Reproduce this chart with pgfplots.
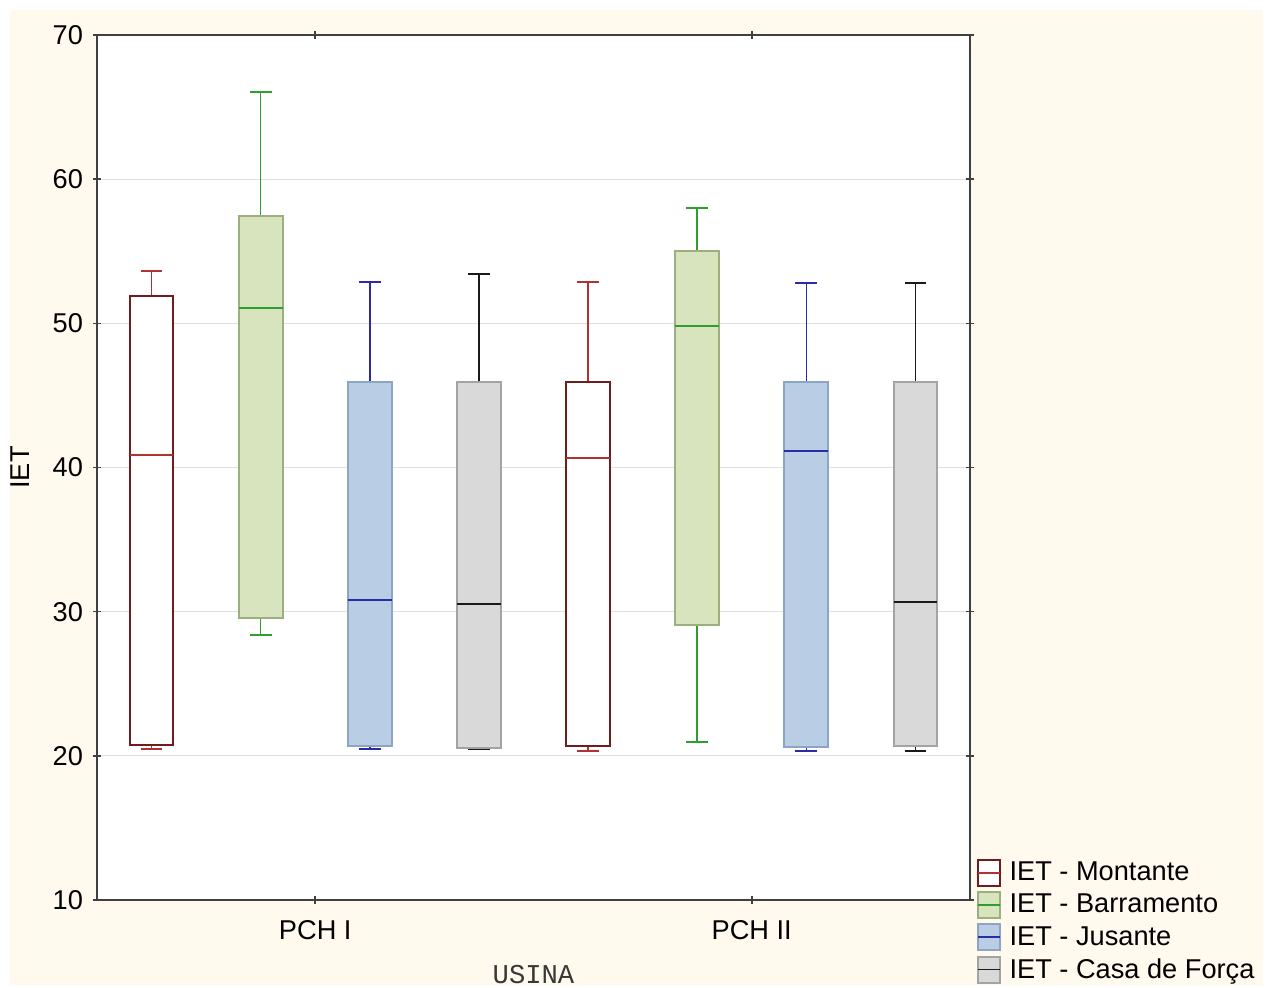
\documentclass[border=0pt]{standalone}
\usepackage{fontspec}
\setmainfont{Liberation Sans}
\setmonofont{Liberation Mono}
\usepackage{pgfplots}
\pgfplotsset{compat=1.18}
\usepgfplotslibrary{statistics}
\definecolor{cream}{HTML}{FFF9EE}
\definecolor{mEdge}{HTML}{6E1C1C}
\definecolor{mLine}{HTML}{B03333}
\definecolor{bFill}{HTML}{D7E4BD}
\definecolor{bEdge}{HTML}{9BB07E}
\definecolor{bLine}{HTML}{2E9E2E}
\definecolor{jFill}{HTML}{B9CDE5}
\definecolor{jEdge}{HTML}{8EA4C4}
\definecolor{jLine}{HTML}{2B2BA8}
\definecolor{cFill}{HTML}{D9D9D9}
\definecolor{cEdge}{HTML}{A3A3A3}
\definecolor{cLine}{HTML}{1A1A1A}
\newcommand{\fs}{\fontsize{13.6}{16}\selectfont}
\pgfplotsset{
  bx/.style n args={3}{solid, draw=#1, fill=#2, line width=1pt, mark=none,
    mark options={draw opacity=0, fill opacity=0},
    boxplot/box extend=0.4, boxplot/whisker extend=0.2,
    boxplot/every whisker/.style={solid, draw=#3, line width=0.8pt},
    boxplot/every median/.style={solid, draw=#3, line width=0.8pt}},
  lgimg/.style n args={3}{legend image code/.code={\draw[draw=#1,fill=#2,line width=0.8pt] (0pt,-6.5pt) rectangle (11pt,6.5pt); \draw[draw=#3,line width=0.7pt] (0pt,0pt)--(11pt,0pt); \path (13.5pt,0pt);}},
}
\begin{document}
\begin{tikzpicture}
% background: 1266x988 px at 0.5pt/px, axis box lower-left at (0,0)
\fill[white] (-48.5pt,-44pt) rectangle (584.5pt,450pt);
\fill[cream] (-43.5pt,-42.5pt) rectangle (583pt,445pt);
\fill[white] (0pt,0pt) rectangle (436.5pt,432.5pt);
\useasboundingbox (-48.5pt,-44pt) rectangle (584.5pt,450pt);
\begin{axis}[
  at={(0,0)}, anchor=south west,
  scale only axis, width=436.5pt, height=432.5pt,
  xmin=0.5, xmax=8.5, ymin=10, ymax=70,
  xtick={2.5,6.5}, xticklabels={PCH I,PCH II},
  ytick={10,20,...,70},
  ymajorgrids, grid style={draw=black!13, line width=0.6pt},
  axis line style={draw=black!75, line width=1pt},
  tick align=center, major tick length=4pt,
  tick style={draw=black!75, line width=0.8pt},
  /pgf/number format/assume math mode=true,
  ticklabel style={font=\fs},
  xticklabel style={yshift=-4.5pt},
  yticklabel style={xshift=-1.5pt},
  xlabel={USINA}, ylabel={IET},
  xlabel style={font=\ttfamily\fontsize{13.6}{15}\selectfont, text=black!78, at={(axis description cs:0.5,-0.0867)}, anchor=center},
  ylabel style={font=\fs, at={(axis description cs:-0.088,0.5)}, anchor=center},
  legend style={draw=none, fill=none, font=\fs, at={(axis description cs:1.008,-0.025)}, anchor=west,
    row sep=1.2pt, inner sep=0pt},
  legend cell align=left,
  boxplot/draw direction=y,
]
% legend first
\addlegendimage{lgimg={mEdge}{white}{mLine}}
\addlegendentry{IET - Montante}
\addlegendimage{lgimg={bEdge}{bFill}{bLine}}
\addlegendentry{IET - Barramento}
\addlegendimage{lgimg={jEdge}{jFill}{jLine}}
\addlegendentry{IET - Jusante}
\addlegendimage{lgimg={cEdge}{cFill}{cLine}}
\addlegendentry{IET - Casa de Força}
% PCH I
\addplot[bx={mEdge}{white}{mLine},
  boxplot prepared={draw position=1, lower whisker=20.47, lower quartile=20.75, median=40.87, upper quartile=51.9, upper whisker=53.63}]
  table[row sep=\\, y index=0] {40.87\\};
\addplot[bx={bEdge}{bFill}{bLine},
  boxplot prepared={draw position=2, lower whisker=28.38, lower quartile=29.56, median=51.06, upper quartile=57.45, upper whisker=66.05}]
  table[row sep=\\, y index=0] {51.06\\};
\addplot[bx={jEdge}{jFill}{jLine},
  boxplot prepared={draw position=3, lower whisker=20.47, lower quartile=20.68, median=30.81, upper quartile=45.93, upper whisker=52.87}]
  table[row sep=\\, y index=0] {30.81\\};
\addplot[bx={cEdge}{cFill}{cLine},
  boxplot prepared={draw position=4, lower whisker=20.47, lower quartile=20.54, median=30.53, upper quartile=45.93, upper whisker=53.42}]
  table[row sep=\\, y index=0] {30.53\\};
% PCH II
\addplot[bx={mEdge}{white}{mLine},
  boxplot prepared={draw position=5, lower whisker=20.34, lower quartile=20.68, median=40.66, upper quartile=45.93, upper whisker=52.87}]
  table[row sep=\\, y index=0] {40.66\\};
\addplot[bx={bEdge}{bFill}{bLine},
  boxplot prepared={draw position=6, lower whisker=20.96, lower quartile=29.08, median=49.82, upper quartile=55.02, upper whisker=58.0}]
  table[row sep=\\, y index=0] {49.82\\};
\addplot[bx={jEdge}{jFill}{jLine},
  boxplot prepared={draw position=7, lower whisker=20.34, lower quartile=20.61, median=41.14, upper quartile=45.93, upper whisker=52.8}]
  table[row sep=\\, y index=0] {41.14\\};
\addplot[bx={cEdge}{cFill}{cLine},
  boxplot prepared={draw position=8, lower whisker=20.34, lower quartile=20.68, median=30.67, upper quartile=45.93, upper whisker=52.8}]
  table[row sep=\\, y index=0] {30.67\\};
\end{axis}
\end{tikzpicture}
\end{document}
